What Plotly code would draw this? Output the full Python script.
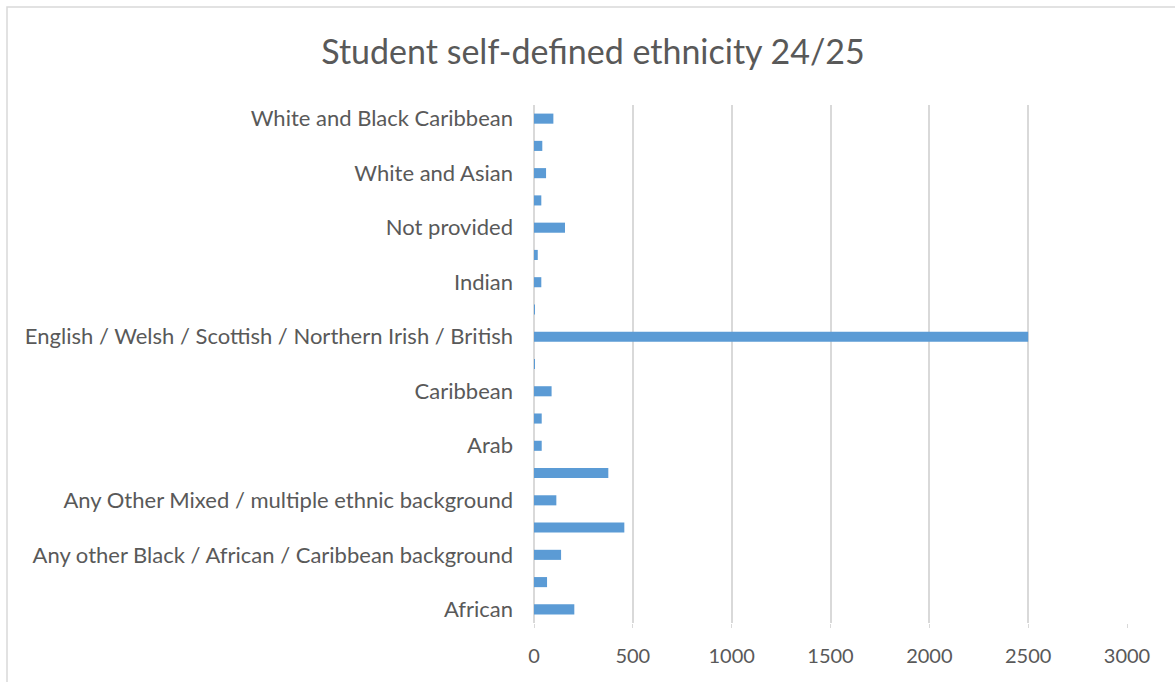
import plotly.graph_objects as go

categories = [
    "African",
    "Any other Asian background",
    "Any other Black / African / Caribbean background",
    "Any other ethnic group",
    "Any Other Mixed / multiple ethnic background",
    "Any other White background",
    "Arab",
    "Bangladeshi",
    "Caribbean",
    "Chinese",
    "English / Welsh / Scottish / Northern Irish / British",
    "Gypsy or Irish Traveller",
    "Indian",
    "Irish",
    "Not provided",
    "Pakistani",
    "White and Asian",
    "White and Black African",
    "White and Black Caribbean",
]
counts = [204, 66, 137, 457, 113, 376, 39, 39, 89, 5, 2500, 4, 37, 19, 157, 37, 61, 42, 98]

shown_labels = categories[::2]
x_ticks = [0, 500, 1000, 1500, 2000, 2500, 3000]

W, H = 1175, 682
L, R, T, B = 534, 48, 105, 59
pw, ph = W - L - R, H - T - B

def px_x(p):
    return (p - L) / pw

def px_y(p):
    return (H - B - p) / ph

fig = go.Figure(
    go.Bar(
        x=counts,
        y=categories,
        orientation="h",
        marker=dict(color="#5B9BD5", line=dict(width=0)),
        width=0.37,
    )
)

fig.update_layout(
    width=W,
    height=H,
    margin=dict(l=L, r=R, t=T, b=B),
    paper_bgcolor="white",
    plot_bgcolor="white",
    font=dict(family="Lato, Open Sans, sans-serif", color="#595959", size=22),
    title=dict(
        text="Student self-defined ethnicity 24/25",
        x=593 / W,
        xanchor="center",
        xref="container",
        y=1 - 52 / H,
        yanchor="middle",
        yref="container",
        font=dict(size=34, color="#595959"),
    ),
    showlegend=False,
    shapes=[
        dict(
            type="rect",
            xref="paper",
            yref="paper",
            x0=px_x(7),
            x1=px_x(1200),
            y0=px_y(700),
            y1=px_y(7),
            line=dict(color="#D9D9D9", width=1.5),
            fillcolor="rgba(0,0,0,0)",
            layer="below",
        )
    ],
)

fig.update_xaxes(
    range=[0, 3000],
    tickvals=x_ticks,
    showgrid=True,
    gridcolor="#D9D9D9",
    gridwidth=1.5,
    zeroline=True,
    zerolinecolor="#D9D9D9",
    zerolinewidth=1.5,
    ticks="outside",
    ticklen=4,
    tickcolor="#D9D9D9",
    ticklabelstandoff=11,
    tickfont=dict(size=20, color="#595959"),
    showline=False,
)

fig.update_yaxes(
    categoryorder="array",
    categoryarray=categories,
    tickvals=shown_labels,
    ticktext=shown_labels,
    showgrid=False,
    ticks="",
    ticklabelstandoff=20,
    tickfont=dict(size=22, color="#595959"),
    range=[-0.5, len(categories) - 0.5],
)

fig.write_html("out.html")
